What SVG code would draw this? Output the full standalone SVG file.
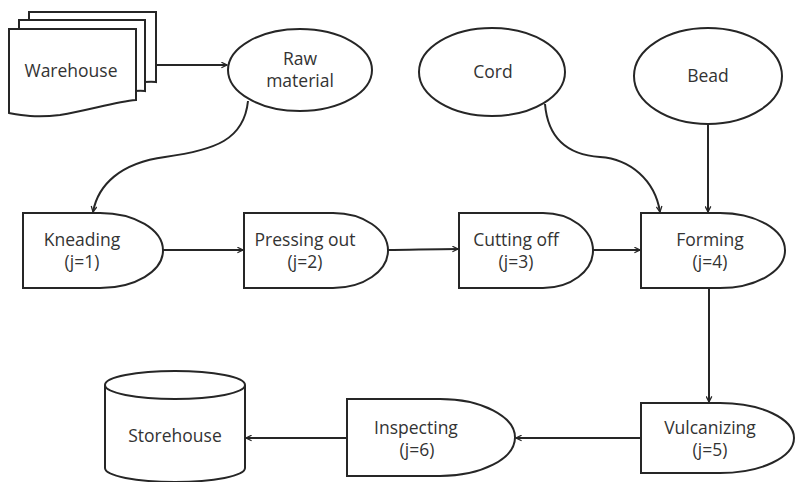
<svg xmlns="http://www.w3.org/2000/svg" width="797" height="482" viewBox="0 0 797 482">
<defs>
<style>
.s{fill:#fff;stroke:#262626;stroke-width:2}
.t{font-family:"Open Sans","Liberation Sans",sans-serif;font-size:17.5px;fill:#333;text-anchor:middle}
.c{fill:none;stroke:#262626;stroke-width:2}
</style>
<marker id="a" viewBox="0 0 10 10" refX="9" refY="5" markerWidth="7" markerHeight="7" orient="auto" markerUnits="userSpaceOnUse"><path d="M1,1 L9,5 L1,9" fill="none" stroke="#262626" stroke-width="1.8"/></marker>
</defs>
<rect width="797" height="482" fill="#fff"/>
<g id="warehouse">
<path class="s" d="M29,12 H156 V82 C140,80 100,88 70,90 C50,91 38,88 29,86 Z"/>
<path class="s" d="M19,20 H145 V91 C130,89 90,97 60,99 C40,100 28,97 19,95 Z"/>
<path class="s" d="M9,29 H136 V100 C115,102 90,110 60,115 C35,118 20,115 9,113 Z"/>
<text class="t" x="71" y="77">Warehouse</text>
</g>
<g id="raw">
<ellipse class="s" cx="300" cy="70" rx="72" ry="41"/>
<text class="t" x="300" y="65">Raw</text>
<text class="t" x="300" y="87">material</text>
</g>
<g id="cord">
<ellipse class="s" cx="492" cy="72" rx="73" ry="44"/>
<text class="t" x="493" y="78">Cord</text>
</g>
<g id="bead">
<ellipse class="s" cx="708" cy="76" rx="74" ry="48"/>
<text class="t" x="708" y="82">Bead</text>
</g>
<g id="kneading">
<path class="s" d="M23,213 H100 A63,37.5 0 0 1 100,288 H23 Z"/>
<text class="t" x="82" y="246">Kneading</text>
<text class="t" x="82" y="268">(j=1)</text>
</g>
<g id="pressing">
<path class="s" d="M244,213 H333 A55,37.5 0 0 1 333,288 H244 Z"/>
<text class="t" x="305" y="246">Pressing out</text>
<text class="t" x="305" y="268">(j=2)</text>
</g>
<g id="cutting">
<path class="s" d="M459,213 H543 A50,37.5 0 0 1 543,288 H459 Z"/>
<text class="t" x="516" y="246">Cutting off</text>
<text class="t" x="516" y="268">(j=3)</text>
</g>
<g id="forming">
<path class="s" d="M641,213 H720 A65,37.5 0 0 1 720,288 H641 Z"/>
<text class="t" x="710" y="246">Forming</text>
<text class="t" x="710" y="268">(j=4)</text>
</g>
<g id="vulcanizing">
<path class="s" d="M641,403 H720 A74,35 0 0 1 720,473 H641 Z"/>
<text class="t" x="710" y="434">Vulcanizing</text>
<text class="t" x="710" y="456">(j=5)</text>
</g>
<g id="inspecting">
<path class="s" d="M347,399 H440 A75,38.5 0 0 1 440,476 H347 Z"/>
<text class="t" x="416" y="434">Inspecting</text>
<text class="t" x="417" y="456">(j=6)</text>
</g>
<g id="storehouse">
<path class="s" d="M105,385 V468 A70,14 0 0 0 245,468 V385"/>
<ellipse class="s" cx="175" cy="385" rx="70" ry="14"/>
<text class="t" x="175" y="442">Storehouse</text>
</g>
<g id="connectors">
<path class="c" marker-end="url(#a)" d="M156,65 H227"/>
<path class="c" marker-end="url(#a)" d="M248,101 C244,140 215,150 165,157 C120,163 98,185 93,212"/>
<path class="c" marker-end="url(#a)" d="M545,104 C548,140 570,155 600,157 C630,159 655,180 660,212"/>
<path class="c" marker-end="url(#a)" d="M708,124 V212"/>
<path class="c" marker-end="url(#a)" d="M163,250 H243"/>
<path class="c" marker-end="url(#a)" d="M388,250 C410,250 430,249 458,249"/>
<path class="c" marker-end="url(#a)" d="M593,250 H640"/>
<path class="c" marker-end="url(#a)" d="M709,288 V402"/>
<path class="c" marker-end="url(#a)" d="M641,438 H516"/>
<path class="c" marker-end="url(#a)" d="M347,438 H246"/>
</g>
</svg>
